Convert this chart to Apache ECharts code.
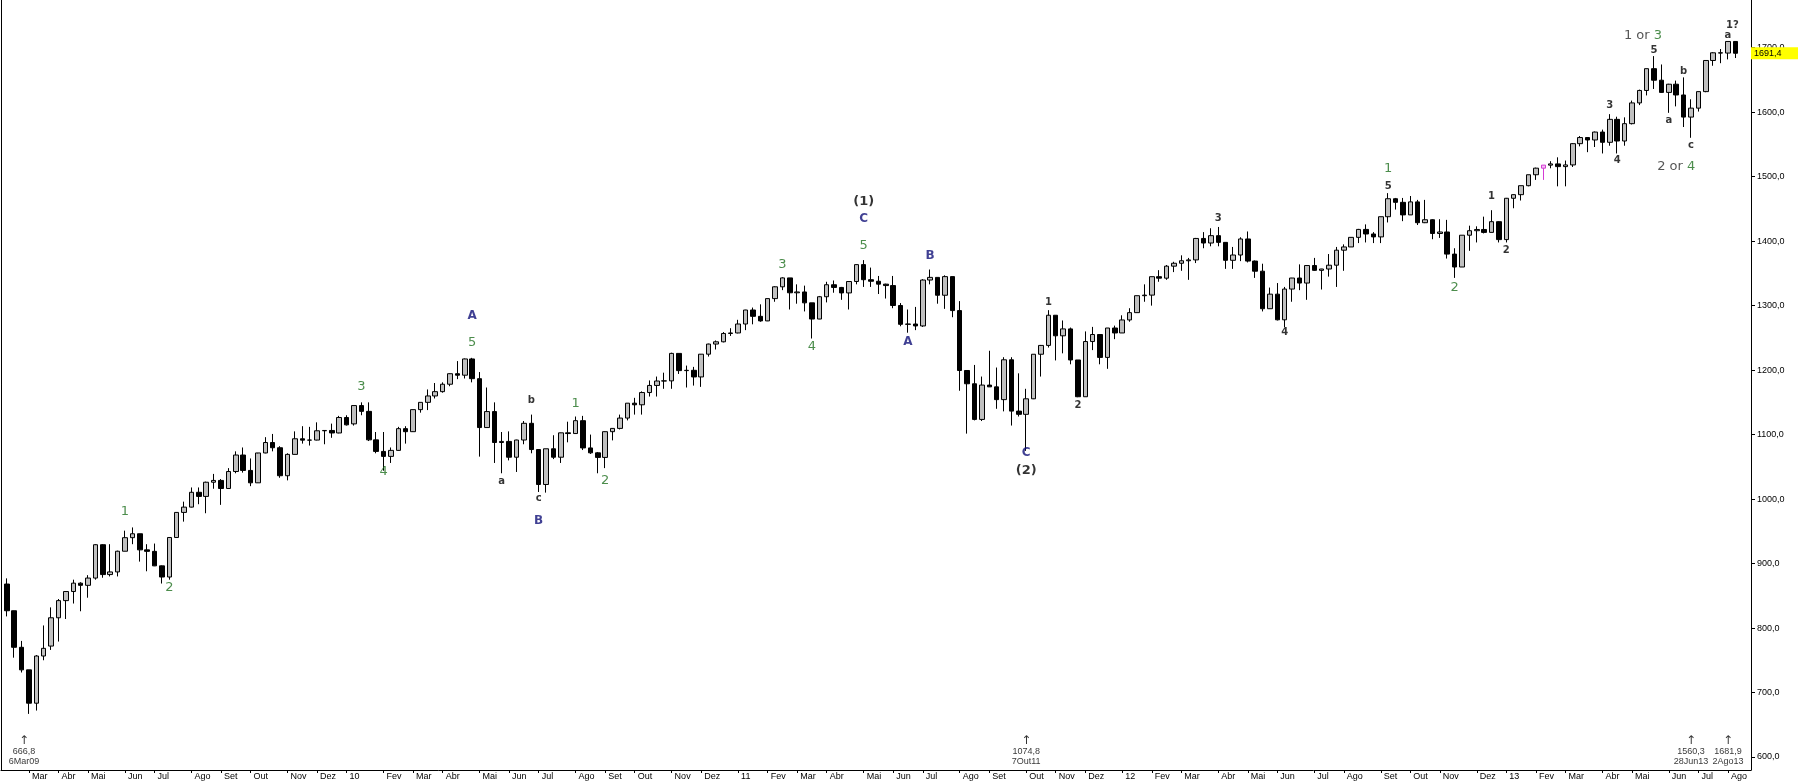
<!DOCTYPE html>
<html>
<head>
<meta charset="utf-8">
<script src="https://cdn.jsdelivr.net/npm/echarts@6/dist/echarts.min.js"></script>
<style>
html,body{margin:0;padding:0;background:#ffffff;}
#main{width:1798px;height:784px;}
</style>
</head>
<body>
<div id="main"></div>
<script>
// ---- Weekly S&P 500 candles (week ending Friday), first week 13 Feb 2009 ----
const firstWeekUTC = Date.UTC(2009, 1, 13);

const open2009 = [868.2,826.8,770.1,735.1,683.4,756.6,772.0,815.9,842.5,856.6,869.6,866.2,877.5,929.2,882.9,887.0,919.1,940.1,946.2,921.2,918.9,896.4,879.1,940.4,979.3,987.5,1010.5,1004.1,1026.1,1028.9,1016.4,1042.7,1068.3,1044.4,1025.2,1071.5,1087.7,1079.6,1036.2,1069.3,1093.5,1091.4,1091.5,1105.9,1106.4,1102.5,1126.5];
const high2009 = [877,827,780,735.1,758,804,832,845,857,875,871,882,930,930,930,920,951,956,946,930,931,897,941,979,996,1018,1018,1027,1039,1031,1048,1074,1080,1063,1071,1096,1101,1082,1071,1105,1113,1112,1119,1107,1117,1129,1130];
const low2009 = [818,754,731,666.8,672,750,766,779,814,838,826,847,875,878,880,880,919,930,903,888,896,869,875,940,965,987,992,978,1016,991,1016,1040,1041,1020,1025,1071,1074,1033,1029,1069,1086,1083,1091,1085,1095,1102,1114];
const close2009 = [826.8,770.1,735.1,683.4,756.6,768.5,815.9,842.5,856.6,869.6,866.2,877.5,929.2,882.9,887.0,919.1,940.1,946.2,921.2,918.9,896.4,879.1,940.4,979.3,987.5,1010.5,1004.1,1026.1,1028.9,1016.4,1042.7,1068.3,1044.4,1025.2,1071.5,1087.7,1079.6,1036.2,1069.3,1093.5,1091.4,1091.5,1105.9,1106.4,1102.5,1126.5,1115.1];

const open2010 = [1116.6,1145.0,1136.0,1091.8,1073.9,1066.2,1075.5,1109.2,1104.5,1138.7,1150.0,1159.9,1166.6,1178.1,1194.4,1192.1,1217.3,1186.7,1110.9,1135.7,1087.7,1089.4,1064.9,1091.6,1117.5,1076.8,1022.6,1078.0,1064.9,1102.7,1101.6,1121.6,1079.3,1071.7,1064.6,1104.5,1109.6,1125.6,1148.7,1146.2,1165.2,1176.2,1183.1,1183.3,1225.9,1199.2,1199.7,1189.4,1224.7,1240.4,1243.9,1256.8];
const high2010 = [1145,1150,1150,1104,1104,1080,1112,1113,1139,1150,1170,1180,1181,1195,1214,1218,1219,1197,1173,1150,1104,1105,1092,1121,1131,1077,1078,1099,1103,1120,1128,1129,1100,1073,1105,1110,1131,1148.7,1157,1167,1184,1190,1196,1227,1226,1207,1205,1225,1241,1246,1259,1265];
const low2010 = [1114,1130,1090,1071,1044,1056,1075,1086,1104,1134,1138,1156,1165,1175,1186,1187,1181,1065.8,1110.9,1056,1040,1060,1042,1085,1071,1011,1010,1062,1056,1088,1101,1076,1070,1040,1048,1091,1108,1122,1131,1131,1159,1159,1171,1171,1194,1173,1176,1174,1221,1232,1243,1253];
const close2010 = [1145.0,1136.0,1091.8,1073.9,1066.2,1075.5,1109.2,1104.5,1138.7,1150.0,1159.9,1166.6,1178.1,1194.4,1192.1,1217.3,1186.7,1110.9,1135.7,1087.7,1089.4,1064.9,1091.6,1117.5,1076.8,1022.6,1078.0,1064.9,1102.7,1101.6,1121.6,1079.3,1071.7,1064.6,1104.5,1109.6,1125.6,1148.7,1146.2,1165.2,1176.2,1183.1,1183.3,1225.9,1199.2,1199.7,1189.4,1224.7,1240.4,1243.9,1256.8,1257.6];

const open2011 = [1257.6,1271.5,1293.2,1283.4,1276.3,1310.9,1329.2,1343.0,1319.9,1321.2,1304.3,1279.2,1313.8,1332.4,1328.2,1319.7,1337.4,1363.6,1340.2,1337.8,1333.3,1331.1,1300.2,1271.0,1271.5,1268.5,1339.7,1343.8,1316.1,1345.0,1292.3,1199.4,1178.8,1123.5,1176.8,1174.0,1154.2,1216.0,1136.4,1131.4,1155.5,1224.6,1238.3,1285.1,1253.2,1263.9,1215.7,1158.7,1244.3,1255.2,1219.7,1265.3];
const high2011 = [1278,1293.5,1297,1302,1311,1330,1344,1343,1333,1331,1304.3,1315,1337,1339,1329,1337.5,1364,1370.6,1359,1346,1334,1346,1304,1294,1298,1341,1356,1344,1347,1345,1307,1199.4,1208,1190,1230,1204,1220,1220,1195,1171,1224.6,1239,1293,1285.1,1277,1266,1215.7,1260,1267,1255.2,1265.3,1269];
const low2011 = [1257,1262,1271,1275,1276,1306,1324,1294,1303,1291,1249,1279,1305,1320,1309,1294,1333,1329,1329,1318,1311,1296,1268,1258,1262,1267,1333,1303,1295,1282,1168,1101.5,1122,1121,1174,1140,1136,1114,1128,1074.8,1155,1190,1235,1215,1226,1209,1158,1158.7,1231,1209,1202,1248];
const close2011 = [1271.5,1293.2,1283.4,1276.3,1310.9,1329.2,1343.0,1319.9,1321.2,1304.3,1279.2,1313.8,1332.4,1328.2,1319.7,1337.4,1363.6,1340.2,1337.8,1333.3,1331.1,1300.2,1271.0,1271.5,1268.5,1339.7,1343.8,1316.1,1345.0,1292.3,1199.4,1178.8,1123.5,1176.8,1174.0,1154.2,1216.0,1136.4,1131.4,1155.5,1224.6,1238.3,1285.1,1253.2,1263.9,1215.7,1158.7,1244.3,1255.2,1219.7,1265.3,1257.6];

const open2012 = [1257.6,1277.8,1289.1,1315.4,1316.3,1344.9,1342.6,1361.2,1365.7,1369.6,1370.9,1404.2,1397.1,1408.5,1398.1,1370.3,1378.5,1403.4,1369.1,1353.4,1295.2,1317.8,1278.0,1325.7,1342.8,1335.0,1362.2,1354.7,1356.8,1362.7,1386.0,1391.0,1405.9,1418.2,1411.1,1406.6,1437.9,1465.8,1460.2,1440.7,1460.9,1428.6,1433.2,1411.9,1414.2,1379.9,1359.9,1409.2,1416.2,1418.1,1413.6,1430.2];
const high2012 = [1285,1296,1315.5,1333,1345,1355,1363,1368,1378,1374,1405,1414,1420,1422,1398.1,1391,1406,1415,1370,1365,1328,1335,1329,1343,1364,1362.2,1374,1357,1380,1391,1395,1406,1419,1426,1414,1438,1474.5,1467,1467,1470,1464,1464,1434,1434,1433,1389,1409.2,1424,1423,1438,1448,1431];
const low2012 = [1257.6,1275,1289,1306,1300,1337,1340,1352,1354,1340,1366,1389,1392,1392,1357,1357,1369,1367,1343,1291,1295,1277,1266.7,1306,1324,1309,1354,1325,1345,1329,1354,1391,1397,1398,1397,1397,1429,1449,1431,1440.7,1425,1428,1403,1405,1373,1343,1359.9,1385,1398,1412,1413.6,1398];
const close2012 = [1277.8,1289.1,1315.4,1316.3,1344.9,1342.6,1361.2,1365.7,1369.6,1370.9,1404.2,1397.1,1408.5,1398.1,1370.3,1378.5,1403.4,1369.1,1353.4,1295.2,1317.8,1278.0,1325.7,1342.8,1335.0,1362.2,1354.7,1356.8,1362.7,1386.0,1391.0,1405.9,1418.2,1411.1,1406.6,1437.9,1465.8,1460.2,1440.7,1460.9,1428.6,1433.2,1411.9,1414.2,1379.9,1359.9,1409.2,1416.2,1418.1,1413.6,1430.2,1402.4];

const open2013 = [1402.4,1466.5,1472.1,1486.0,1503.0,1513.2,1517.9,1519.8,1515.6,1518.2,1551.2,1560.7,1556.9,1569.2,1553.3,1588.9,1555.3,1582.2,1614.4,1633.7,1667.5,1649.6,1630.7,1643.4,1626.7,1592.4,1606.3,1631.9,1680.2,1692.1,1691.7,1709.7];
const high2013 = [1467,1472.5,1486,1503,1514,1518,1524,1530,1525,1552,1563,1561,1570,1573,1597,1593,1592,1618,1635,1667.5,1687,1674,1644,1649,1654,1620,1632,1680.2,1693,1698,1709.7,1709.7];
const low2013 = [1398,1451,1463,1485,1495,1495,1513,1485,1485,1515,1547,1538,1546,1536,1548,1536,1548,1581,1611,1626,1636,1630,1599,1609,1577,1560.3,1601,1631,1672,1676,1681.9,1684];
const close2013 = [1466.5,1472.1,1486.0,1503.0,1513.2,1517.9,1519.8,1515.6,1518.2,1551.2,1560.7,1556.9,1569.2,1553.3,1588.9,1555.3,1582.2,1614.4,1633.7,1667.5,1649.6,1630.7,1643.4,1626.7,1592.4,1606.3,1631.9,1680.2,1692.1,1691.7,1709.7,1691.4];

const openPrices  = [...open2009, ...open2010, ...open2011, ...open2012, ...open2013];
const highPrices  = [...high2009, ...high2010, ...high2011, ...high2012, ...high2013];
const lowPrices   = [...low2009, ...low2010, ...low2011, ...low2012, ...low2013];
const closePrices = [...close2009, ...close2010, ...close2011, ...close2012, ...close2013];

// highlighted (magenta) week: 8 Feb 2013
const highlightWeek = 208;

// y-axis tick labels
const priceTicks = [600,700,800,900,1000,1100,1200,1300,1400,1500,1600,1700];
const ptMonths = ['Jan','Fev','Mar','Abr','Mai','Jun','Jul','Ago','Set','Out','Nov','Dez'];

// Elliott-wave annotations: text, week index, price level, style
const waveText  = ['1','2','3','4','5','A','a','b','c','B','1','2','3','4','5','C','(1)','B','A','1','2','C','(2)','3','4','1','5','2','1','2','3','4','1 or 3','5','a','b','c','2 or 4','1?','a'];
const waveWeek  = [16,22,48,51,63,63,67,71,72,72,77,81,105,109,116,116,116,125,122,141,145,138,138,164,173,187,187,196,201,203,217,218,221.5,223,225,227,228,226,233.6,233];
const wavePrice = [980,862,1174,1042,1242,1284,1028,1153,1001,966,1148,1028,1363,1237,1393,1434,1461,1377,1244,1305,1145,1071,1044,1435,1259,1513,1485,1328,1470,1386,1611,1525,1719,1696,1587,1664,1548,1515,1734,1719];
const waveStyle = ['g','g','g','g','g','n','k','k','k','n','g','g','g','g','g','n','p','n','n','k','k','n','p','k','k','g','k','g','k','k','k','k','m','k','k','k','k','m','k','k'];

// extreme-low markers under the axis
const extremeWeeks = [3, 138, 228, 233];
const markerLevel = 609;

// ---- build ----
const fmt = v => v.toFixed(1).replace('.', ',');
const weekDates = openPrices.map((_, i) => new Date(firstWeekUTC + i * 7 * 86400000));
const monthTickWeeks = [];
const monthTickLabels = [];
for (let i = 1; i < weekDates.length; i++) {
  const m = weekDates[i].getUTCMonth();
  if (m !== weekDates[i - 1].getUTCMonth()) {
    monthTickWeeks.push(i);
    monthTickLabels.push(m === 0 ? String(weekDates[i].getUTCFullYear()).slice(2) : ptMonths[m]);
  }
}
const dateLabel = i => {
  const d = weekDates[i];
  return d.getUTCDate() + ptMonths[d.getUTCMonth()] + String(d.getUTCFullYear()).slice(2);
};

const candleData = openPrices.map((o, i) => {
  const item = { value: [i, o, closePrices[i], lowPrices[i], highPrices[i]] };
  if (i === highlightWeek) {
    item.itemStyle = { color: '#f4c2f4', color0: '#f4c2f4', borderColor: '#d43cd4', borderColor0: '#d43cd4', borderColorDoji: '#d43cd4' };
  }
  return item;
});

const GREEN = '#1f701f', NAVY = '#101078';
const labelStyles = {
  g: { color: GREEN, fontSize: 13, fontFamily: 'DejaVu Sans' },
  n: { color: NAVY, fontSize: 12, fontWeight: 'bold', fontFamily: 'DejaVu Sans' },
  k: { color: '#000', fontSize: 10, fontWeight: 'bold', fontFamily: 'DejaVu Sans' },
  p: { color: '#000', fontSize: 13, fontWeight: 'bold', fontFamily: 'DejaVu Sans' },
  m: { color: '#2a2a2a', fontSize: 13, fontFamily: 'DejaVu Sans', rich: { g: { color: GREEN, fontSize: 13, fontFamily: 'DejaVu Sans' } } }
};
const waveData = waveText.map((t, i) => {
  const s = waveStyle[i];
  const txt = s === 'm' ? t.replace(/(\d)$/, '{g|$1}') : t;
  return {
    value: [waveWeek[i], wavePrice[i]],
    label: Object.assign({ show: true, position: 'inside', formatter: txt }, labelStyles[s])
  };
});

const markerData = extremeWeeks.map((w, k) => ({
  value: [w, markerLevel],
  label: {
    formatter: '{ar|\u2191}\n' + fmt(lowPrices[w]) + '\n' + dateLabel(w),
    offset: k === 0 ? [-5, 0] : [0, 0]
  }
}));

const lastClose = closePrices[closePrices.length - 1];
const yMin = 579.8, yMax = 1774;

const chart = echarts.init(document.getElementById('main'));
chart.setOption({
  animation: false,
  backgroundColor: '#ffffff',
  textStyle: { fontFamily: 'Liberation Sans' },
  grid: { left: 1, right: 47, top: 0, bottom: 14, containLabel: false, outerBoundsMode: 'none' },
  xAxis: {
    type: 'value', min: -0.785, max: 236.12,
    axisLine: { show: true, onZero: false, lineStyle: { color: '#000', width: 1 } },
    axisTick: { show: true, customValues: monthTickWeeks, length: 3, lineStyle: { color: '#000' } },
    axisLabel: {
      show: true, customValues: monthTickWeeks,
      formatter: v => { const k = monthTickWeeks.indexOf(Math.round(v)); return k >= 0 ? monthTickLabels[k] : ''; },
      align: 'left', padding: [0, 0, 0, 3], margin: 2, fontSize: 9, color: '#000', fontFamily: 'Liberation Sans'
    },
    splitLine: { show: false }
  },
  yAxis: [{
    type: 'value', position: 'right', min: yMin, max: yMax,
    axisLine: { show: true, onZero: false, lineStyle: { color: '#000', width: 1 } },
    axisTick: { show: true, customValues: priceTicks, length: 4, lineStyle: { color: '#000' } },
    axisLabel: { show: true, customValues: priceTicks, formatter: v => fmt(v), margin: 6, fontSize: 9, color: '#000', fontFamily: 'Liberation Sans' },
    splitLine: { show: false }
  }, {
    type: 'value', position: 'left', min: yMin, max: yMax,
    axisLine: { show: true, onZero: false, lineStyle: { color: '#000', width: 1 } },
    axisTick: { show: false }, axisLabel: { show: false }, splitLine: { show: false }
  }],
  series: [{
    type: 'candlestick',
    data: candleData,
    barWidth: 5,
    clip: false,
    itemStyle: { color: '#c0c0c0', color0: '#000000', borderColor: '#000000', borderColor0: '#000000', borderColorDoji: '#000000', borderWidth: 1 },
    markLine: {
      silent: true, symbol: ['none', 'none'], animation: false,
      lineStyle: { color: 'rgba(0,0,0,0)', width: 1 },
      label: {
        show: true, position: 'end', distance: 0, formatter: fmt(lastClose),
        backgroundColor: '#ffff00', color: '#000', fontSize: 9, fontFamily: 'Liberation Sans',
        padding: [2, 17, 1, 3]
      },
      data: [{ yAxis: lastClose }]
    }
  }, {
    type: 'scatter',
    silent: true,
    symbolSize: 1,
    itemStyle: { color: 'rgba(0,0,0,0)' },
    data: waveData,
    z: 5
  }, {
    type: 'scatter',
    silent: true,
    symbolSize: 1,
    itemStyle: { color: 'rgba(0,0,0,0)' },
    label: {
      show: true, position: 'inside', fontSize: 9, lineHeight: 10, color: '#000', align: 'center', fontFamily: 'Liberation Sans',
      rich: { ar: { fontSize: 12, lineHeight: 10, fontFamily: 'DejaVu Sans', color: '#000' } }
    },
    data: markerData,
    z: 5
  }]
});
</script>
</body>
</html>
